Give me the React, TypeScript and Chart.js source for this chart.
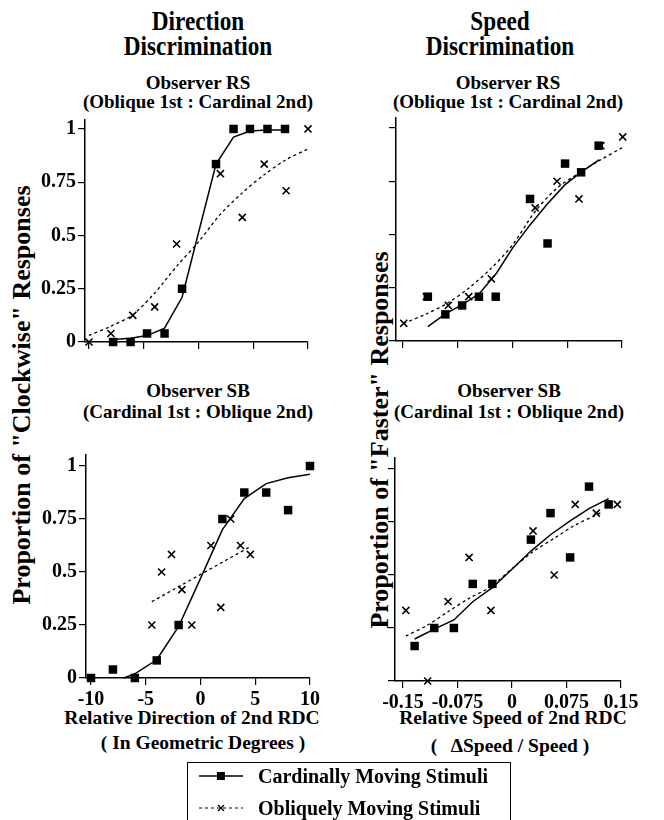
import React, { useEffect, useRef } from "react";
import { Chart, registerables } from "chart.js";

Chart.register(...registerables);

const W = 664;
const H = 820;
const FONT = "'Liberation Serif', 'Times New Roman', Times, serif";
const Y_BOX = 70;
const X_BOX = 40;

// ---------- Direction discrimination, Observer RS ----------
const dirRsCardX = [-7.8, -6.2, -4.7, -3.1, -1.5, 1.6, 3.2, 4.7, 6.3, 7.9];
const dirRsCardY = [0, 0, 0.04, 0.04, 0.25, 0.835, 1, 1, 1, 1];
const dirRsOblX = [-10, -8, -6, -4, -2, 2, 4, 6, 8, 10];
const dirRsOblY = [0, 0.04, 0.125, 0.165, 0.46, 0.79, 0.585, 0.835, 0.71, 1];
const dirRsCardFitX = [-7.8, -6.2, -4.7, -3.1, -1.5, 1.6, 3.2, 4.7, 6.3, 7.9];
const dirRsCardFitY = [0.012, 0.018, 0.03, 0.065, 0.21, 0.835, 0.962, 0.99, 0.995, 0.995];
const dirRsOblFitX = [-10, -8, -6, -4, -2, 0, 2, 4, 6, 8, 10];
const dirRsOblFitY = [0.031, 0.074, 0.128, 0.23, 0.355, 0.47, 0.6, 0.7, 0.785, 0.856, 0.906];

// ---------- Speed discrimination, Observer RS ----------
const spdRsCardX = [-0.116, -0.092, -0.069, -0.046, -0.023, 0.024, 0.048, 0.072, 0.094, 0.118];
const spdRsCardY = [0.208, 0.125, 0.167, 0.208, 0.208, 0.667, 0.458, 0.833, 0.792, 0.917];
const spdRsOblX = [-0.149, -0.118, -0.088, -0.06, -0.029, 0.031, 0.061, 0.091, 0.121, 0.151];
const spdRsOblY = [0.083, 0.208, 0.167, 0.208, 0.292, 0.625, 0.75, 0.667, 0.917, 0.958];
const spdRsCardFitX = [-0.116, -0.092, -0.068, -0.045, -0.022, 0, 0.024, 0.048, 0.072, 0.094, 0.119];
const spdRsCardFitY = [0.067, 0.127, 0.172, 0.224, 0.318, 0.436, 0.545, 0.644, 0.734, 0.793, 0.851];
const spdRsOblFitX = [-0.149, -0.118, -0.088, -0.06, -0.029, 0, 0.031, 0.061, 0.091, 0.121, 0.151];
const spdRsOblFitY = [0.083, 0.127, 0.18, 0.248, 0.342, 0.451, 0.608, 0.718, 0.788, 0.851, 0.909];

// ---------- Direction discrimination, Observer SB ----------
const dirSbCardX = [-10, -8, -6, -4, -2, 2, 4, 6, 8, 10];
const dirSbCardY = [0, 0.04, 0, 0.083, 0.25, 0.75, 0.875, 0.875, 0.792, 1];
const dirSbOblX = [-4.45, -3.55, -2.65, -1.7, -0.8, 0.95, 1.85, 2.75, 3.65, 4.55];
const dirSbOblY = [0.25, 0.5, 0.583, 0.417, 0.25, 0.625, 0.333, 0.75, 0.625, 0.583];
const dirSbCardFitX = [-7, -6, -4, -2, 0, 2, 4, 6, 8, 10];
const dirSbCardFitY = [0, 0.02, 0.086, 0.243, 0.47, 0.7, 0.846, 0.917, 0.945, 0.961];
const dirSbOblFitX = [-4.45, 4.55];
const dirSbOblFitY = [0.36, 0.62];

// ---------- Speed discrimination, Observer SB ----------
const spdSbCardX = [-0.134, -0.107, -0.08, -0.054, -0.027, 0.026, 0.053, 0.08, 0.106, 0.133];
const spdSbCardY = [0.165, 0.25, 0.25, 0.458, 0.458, 0.667, 0.792, 0.583, 0.917, 0.833];
const spdSbOblX = [-0.146, -0.116, -0.088, -0.059, -0.029, 0.029, 0.058, 0.087, 0.116, 0.145];
const spdSbOblY = [0.333, 0, 0.375, 0.583, 0.333, 0.708, 0.5, 0.833, 0.792, 0.833];
const spdSbCardFitX = [-0.134, -0.107, -0.08, -0.054, -0.027, 0, 0.026, 0.053, 0.08, 0.106, 0.133];
const spdSbCardFitY = [0.198, 0.245, 0.288, 0.374, 0.44, 0.527, 0.613, 0.69, 0.755, 0.813, 0.86];
const spdSbOblFitX = [-0.146, -0.116, -0.088, -0.059, -0.029, 0, 0.029, 0.058, 0.087, 0.116, 0.125];
const spdSbOblFitY = [0.212, 0.264, 0.327, 0.39, 0.445, 0.53, 0.61, 0.673, 0.736, 0.783, 0.8];

// ---------- Ticks ----------
const dirTicks = [-10, -5, 0, 5, 10];
const dirTickLabels = ["-10", "-5", "0", "5", "10"];
const spdTicks = [-0.15, -0.075, 0, 0.075, 0.15];
const spdTickLabels = ["-0.15", "-0.075", "0", "0.075", "0.15"];
const propTicks = [0, 0.25, 0.5, 0.75, 1];
const propTickLabels = ["0", "0.25", "0.5", "0.75", "1"];

const pts = (xs: number[], ys: number[]) => xs.map((x, i) => ({ x, y: ys[i] }));

type PanelCfg = {
  area: { left: number; right: number; top: number; bottom: number };
  xMin: number;
  xMax: number;
  yMax: number;
  xTicks: number[];
  xLabels: string[];
  showX: boolean;
  showY: boolean;
  card: [number[], number[]];
  obl: [number[], number[]];
  cardFit: [number[], number[]];
  oblFit: [number[], number[]];
};

const panels: PanelCfg[] = [
  {
    area: { left: 85, right: 308, top: 120, bottom: 342 },
    xMin: -10.365, xMax: 10, yMax: 1.042,
    xTicks: dirTicks, xLabels: dirTickLabels, showX: false, showY: true,
    card: [dirRsCardX, dirRsCardY], obl: [dirRsOblX, dirRsOblY],
    cardFit: [dirRsCardFitX, dirRsCardFitY], oblFit: [dirRsOblFitX, dirRsOblFitY],
  },
  {
    area: { left: 396, right: 622, top: 118, bottom: 341 },
    xMin: -0.1596, xMax: 0.15, yMax: 1.047,
    xTicks: spdTicks, xLabels: spdTickLabels, showX: false, showY: false,
    card: [spdRsCardX, spdRsCardY], obl: [spdRsOblX, spdRsOblY],
    cardFit: [spdRsCardFitX, spdRsCardFitY], oblFit: [spdRsOblFitX, spdRsOblFitY],
  },
  {
    area: { left: 86, right: 310, top: 455, bottom: 678 },
    xMin: -10.46, xMax: 10, yMax: 1.052,
    xTicks: dirTicks, xLabels: dirTickLabels, showX: true, showY: true,
    card: [dirSbCardX, dirSbCardY], obl: [dirSbOblX, dirSbOblY],
    cardFit: [dirSbCardFitX, dirSbCardFitY], oblFit: [dirSbOblFitX, dirSbOblFitY],
  },
  {
    area: { left: 395, right: 621, top: 458, bottom: 681 },
    xMin: -0.161, xMax: 0.15, yMax: 1.052,
    xTicks: spdTicks, xLabels: spdTickLabels, showX: true, showY: false,
    card: [spdSbCardX, spdSbCardY], obl: [spdSbOblX, spdSbOblY],
    cardFit: [spdSbCardFitX, spdSbCardFitY], oblFit: [spdSbOblFitX, spdSbOblFitY],
  },
];

const tickFont = { family: FONT, size: 20, weight: "bold" as const };

function Panel({ cfg }: { cfg: PanelCfg }) {
  const ref = useRef<HTMLCanvasElement | null>(null);
  useEffect(() => {
    if (!ref.current) return;
    const chart = new Chart(ref.current, {
      type: "scatter",
      data: {
        datasets: [
          {
            data: pts(cfg.card[0], cfg.card[1]),
            pointStyle: "rect",
            pointRadius: 6,
            backgroundColor: "#000",
            borderColor: "#000",
            borderWidth: 0,
            showLine: false,
          },
          {
            data: pts(cfg.obl[0], cfg.obl[1]),
            pointStyle: "crossRot",
            pointRadius: 5,
            borderColor: "#000",
            borderWidth: 1.6,
            showLine: false,
          },
          {
            data: pts(cfg.cardFit[0], cfg.cardFit[1]),
            showLine: true,
            borderColor: "#000",
            borderWidth: 1.5,
            pointRadius: 0,
            tension: 0,
            fill: false,
          },
          {
            data: pts(cfg.oblFit[0], cfg.oblFit[1]),
            showLine: true,
            borderColor: "#000",
            borderWidth: 1.3,
            borderDash: [3, 3],
            pointRadius: 0,
            tension: 0.3,
            fill: false,
          },
        ] as any,
      },
      options: {
        responsive: false,
        animation: false,
        clip: false as any,
        layout: {
          padding: {
            left: cfg.area.left - Y_BOX,
            top: cfg.area.top,
            right: W - cfg.area.right,
            bottom: H - cfg.area.bottom - X_BOX,
          },
        },
        plugins: {
          legend: { display: false },
          tooltip: { enabled: false },
          title: { display: false },
        },
        scales: {
          x: {
            type: "linear",
            min: cfg.xMin,
            max: cfg.xMax,
            afterFit: (s: any) => {
              s.height = X_BOX;
              s.paddingLeft = 0;
              s.paddingRight = 0;
            },
            afterBuildTicks: (s: any) => {
              s.ticks = cfg.xTicks.map((v) => ({ value: v }));
            },
            ticks: {
              display: cfg.showX,
              autoSkip: false,
              maxRotation: 0,
              minRotation: 0,
              color: "#000",
              font: tickFont,
              padding: 3,
              callback: (_v: any, i: number) => cfg.xLabels[i],
            },
            grid: {
              display: true,
              drawOnChartArea: false,
              drawTicks: true,
              tickLength: 7,
              color: "#000",
              lineWidth: 1.2,
            },
            border: { display: true, color: "#000", width: 1.5 },
          },
          y: {
            type: "linear",
            min: 0,
            max: cfg.yMax,
            afterFit: (s: any) => {
              s.width = Y_BOX;
              s.paddingTop = 0;
              s.paddingBottom = 0;
            },
            afterBuildTicks: (s: any) => {
              s.ticks = propTicks.map((v) => ({ value: v }));
            },
            ticks: {
              display: cfg.showY,
              autoSkip: false,
              color: "#000",
              font: tickFont,
              padding: 2,
              callback: (_v: any, i: number) => propTickLabels[i],
            },
            grid: {
              display: true,
              drawOnChartArea: false,
              drawTicks: true,
              tickLength: 7,
              color: "#000",
              lineWidth: 1.2,
            },
            border: { display: true, color: "#000", width: 1.5 },
          },
        },
      } as any,
    });
    return () => chart.destroy();
  }, [cfg]);
  return (
    <canvas
      ref={ref}
      width={W}
      height={H}
      style={{ position: "absolute", left: 0, top: 0, width: W, height: H }}
    />
  );
}

function T({
  x,
  y,
  size = 19,
  rotate = 0,
  sx = 1,
  children,
}: {
  x: number;
  y: number;
  size?: number;
  rotate?: number;
  sx?: number;
  children: React.ReactNode;
}) {
  return (
    <div
      style={{
        position: "absolute",
        left: x,
        top: y,
        transform: `translate(-50%, -50%) rotate(${rotate}deg) scaleX(${sx})`,
        whiteSpace: "pre",
        font: `bold ${size}px ${FONT}`,
        lineHeight: 1,
        color: "#000",
      }}
    >
      {children}
    </div>
  );
}

export default function App() {
  return (
    <div
      style={{
        position: "fixed",
        left: 0,
        top: 0,
        width: W,
        height: H,
        background: "#fff",
        overflow: "hidden",
      }}
    >
      <T x={198} y={21} size={27} sx={0.86}>Direction</T>
      <T x={198} y={46} size={27} sx={0.86}>Discrimination</T>
      <T x={500} y={21} size={27} sx={0.86}>Speed</T>
      <T x={500} y={46} size={27} sx={0.86}>Discrimination</T>

      <T x={198} y={82} size={19}>Observer RS</T>
      <T x={198} y={101} size={19}>(Oblique 1st : Cardinal 2nd)</T>
      <T x={508} y={82} size={19}>Observer RS</T>
      <T x={508} y={101} size={19}>(Oblique 1st : Cardinal 2nd)</T>

      <T x={198} y={390} size={19}>Observer SB</T>
      <T x={198} y={411} size={19}>(Cardinal 1st : Oblique 2nd)</T>
      <T x={509} y={390} size={19}>Observer SB</T>
      <T x={509} y={411} size={19}>(Cardinal 1st : Oblique 2nd)</T>

      <T x={22} y={395} size={26} rotate={-90}>Proportion of "Clockwise" Responses</T>
      <T x={380} y={440} size={26} rotate={-90}>Proportion of "Faster" Responses</T>

      <T x={192} y={718} size={19.5}>Relative Direction of 2nd RDC</T>
      <T x={203} y={743} size={19.5}>( In Geometric Degrees )</T>
      <T x={513} y={718} size={19.5}>Relative Speed of 2nd RDC</T>
      <T x={510} y={746} size={19.5}>(   ΔSpeed / Speed )</T>

      {panels.map((p, i) => (
        <Panel key={i} cfg={p} />
      ))}

      <div
        style={{
          position: "absolute",
          left: 187,
          top: 762,
          width: 324,
          height: 70,
          border: "1.5px solid #000",
          boxSizing: "border-box",
        }}
      />
      <svg
        width={60}
        height={60}
        style={{ position: "absolute", left: 195, top: 766 }}
      >
        <line x1={4} y1={10} x2={48} y2={10} stroke="#000" strokeWidth={1.3} />
        <rect x={22} y={6} width={8} height={8} fill="#000" />
        <line x1={4} y1={42} x2={48} y2={42} stroke="#000" strokeWidth={1.1} strokeDasharray="3,3" />
        <line x1={23} y1={39} x2={29} y2={45} stroke="#000" strokeWidth={1.2} />
        <line x1={29} y1={39} x2={23} y2={45} stroke="#000" strokeWidth={1.2} />
      </svg>
      <div
        style={{
          position: "absolute",
          left: 258,
          top: 776,
          transform: "translateY(-50%)",
          font: `bold 20px ${FONT}`,
          lineHeight: 1,
          whiteSpace: "pre",
        }}
      >
        Cardinally Moving Stimuli
      </div>
      <div
        style={{
          position: "absolute",
          left: 258,
          top: 808,
          transform: "translateY(-50%)",
          font: `bold 20px ${FONT}`,
          lineHeight: 1,
          whiteSpace: "pre",
        }}
      >
        Obliquely Moving Stimuli
      </div>
    </div>
  );
}
